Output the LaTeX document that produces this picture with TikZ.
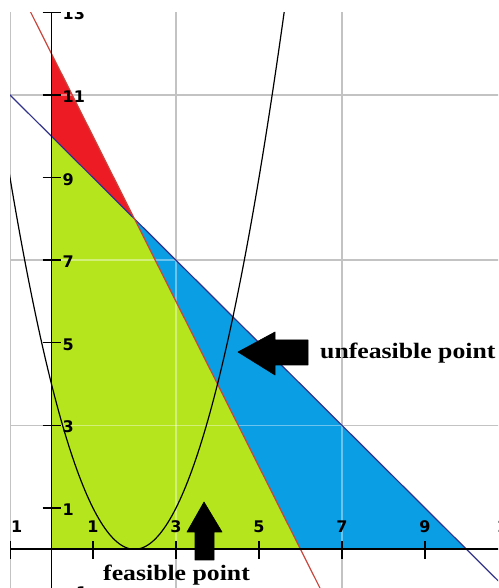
\documentclass[tikz,border=0pt]{standalone}
\usepackage{fontspec}
\setmainfont{Liberation Serif}
\newfontfamily\tickfont{DejaVu Sans}
\definecolor{limefill}{RGB}{181,230,29}
\definecolor{bluefill}{RGB}{10,158,228}
\definecolor{redfill}{RGB}{237,28,36}
\definecolor{gridgray}{RGB}{195,195,195}
\definecolor{navyline}{RGB}{50,50,140}
\definecolor{redline}{RGB}{200,70,60}
\tikzset{
  gridline/.style={draw=gridgray, line width=1.5pt},
  gridover/.style={draw=white, opacity=0.4, line width=1.5pt},
  axisline/.style={draw=black, line width=1.7pt},
  tickline/.style={draw=black, line width=1.4pt},
  ticklab/.style={inner sep=0pt, font=\tickfont\bfseries\fontsize{16}{16}\selectfont},
  txt/.style={inner sep=0pt, xscale=1.17, font=\bfseries\fontsize{22}{22}\selectfont},
  blockarrow/.style={fill=black, draw=black, line width=0.6pt, line join=round},
}
\begin{document}
\begin{tikzpicture}
\useasboundingbox (0,0) rectangle (498pt,588pt);
\begin{scope}
\clip (10pt,0pt) rectangle (498pt,575pt);
\begin{scope}[x=41.5pt, y=41.3pt, shift={(51.5pt,38.7pt)}]
  % grid
  \foreach \g in {-1,3,7,11} {
    \draw[gridline] (\g,-1.2) -- (\g,13.5);
    \draw[gridline] (-1.2,\g) -- (11.5,\g);
  }
  % regions
  \fill[limefill] (0,0) -- (0,10) -- (2,8) -- (6,0) -- cycle;
  \fill[bluefill] (2,8) -- (10,0) -- (6,0) -- cycle;
  \fill[redfill] (0,12) -- (0,10) -- (2,8) -- cycle;
  \begin{scope}
    \clip (0,0) -- (0,12) -- (2,8) -- (10,0) -- cycle;
    \foreach \g in {-1,3,7,11} {
      \draw[gridover] (\g,-1.2) -- (\g,13.5);
      \draw[gridover] (-1.2,\g) -- (11.5,\g);
    }
  \end{scope}
  % constraint lines
  \draw[navyline, line width=1.2pt] (-1.3,11.3) -- (11.3,-1.3);
  \draw[redline, line width=1.2pt] (-0.6,13.2) -- (6.6,-1.2);
  \draw[black, line width=1.2pt, domain=-1.2:5.7, samples=120, smooth] plot (\x,{(\x-2)^2});
  % axes
  \draw[axisline] (-1.3,0) -- (11.5,0);
  \draw[axisline] (0,-1.3) -- (0,13.5);
  % ticks and labels
  \foreach \t/\l in {-1/−1,1/1,3/3,5/5,7/7,9/9,11/11} {
    \draw[tickline] ([yshift=8pt]\t,0) -- ([yshift=-10pt]\t,0);
    \node[ticklab, anchor=base] (xl\t) at ([yshift=16.5pt]\t,0) {\l};
  }
  \foreach \t/\l in {-1/−1,1/1,3/3,5/5,7/7,9/9,11/11,13/13} {
    \draw[tickline] ([xshift=-9pt]0,\t) -- ([xshift=9pt]0,\t);
    \node[ticklab, anchor=base west] (yl\t) at ([xshift=11pt,yshift=-7.5pt]0,\t) {\l};
  }
\end{scope}
% block arrows (pixel coordinates, y flipped)
\fill[blockarrow] (238pt,236pt) -- (275pt,256pt) -- (275pt,248pt) -- (308pt,248pt)
  -- (308pt,223pt) -- (275pt,223pt) -- (275pt,213pt) -- cycle;
\fill[blockarrow] (204pt,86pt) -- (222pt,56pt) -- (214pt,56pt) -- (214pt,28pt)
  -- (195pt,28pt) -- (195pt,56pt) -- (187pt,56pt) -- cycle;
% texts
\node[txt, anchor=base west] (unfeas) at (320pt,229pt) {unfeasible point};
\node[txt, anchor=base west] (feas) at (103pt,8pt) {feasible point};
\end{scope}
\end{tikzpicture}
\end{document}
